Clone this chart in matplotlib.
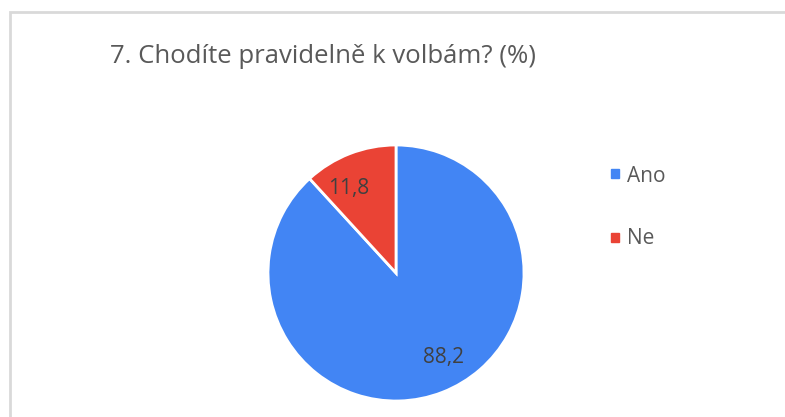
import numpy as np
import matplotlib.pyplot as plt
from matplotlib.patches import Rectangle

title = "7. Chodíte pravidelně k volbám? (%)"
labels = ["Ano", "Ne"]
values = [88.2, 11.8]
colors = ["#4285F4", "#EA4335"]

plt.rcParams['font.family'] = ['Open Sans', 'DejaVu Sans']

W, H = 785, 417
fig = plt.figure(figsize=(W / 100, H / 100), dpi=100)

# chart frame (light grey, runs off the right and bottom edges)
fig.add_artist(Rectangle((9.5 / W, -0.1), 1.2, (H - 12.5) / H + 0.1,
                         transform=fig.transFigure, fill=False,
                         edgecolor="#D9D9D9", linewidth=2))

cx, cy, r = 396, 273, 128
ax = fig.add_axes([(cx - r) / W, (H - cy - r) / H, 2 * r / W, 2 * r / H])

wedges, _, autotexts = ax.pie(
    values, colors=colors, startangle=90, counterclock=False,
    autopct=lambda p: f"{p:.1f}".replace(".", ","), pctdistance=0.76,
    wedgeprops=dict(edgecolor="white", linewidth=2),
    textprops=dict(color="#404040", fontsize=15))
# Excel puts the labels a bit further round (counter-clockwise)
rot = np.deg2rad(8)
for t in autotexts:
    x, y = t.get_position()
    t.set_position((x * np.cos(rot) - y * np.sin(rot),
                    x * np.sin(rot) + y * np.cos(rot)))
ax.set_xlim(-1, 1)
ax.set_ylim(-1, 1)
ax.set_aspect("equal")
ax.axis("off")

fig.text(110 / W, 1 - 63 / H, title, fontsize=18.5, color="#595959",
         va="baseline", ha="left")

for i, (lab, col) in enumerate(zip(labels, colors)):
    ym = 1 - (173.5 + 64 * i) / H
    fig.patches.append(Rectangle((611 / W, ym - 4.5 / H), 8 / W, 9 / H,
                                 transform=fig.transFigure, color=col))
    fig.text(627 / W, 1 - (182 + 62 * i) / H, lab, fontsize=15,
             color="#595959", va="baseline", ha="left")

fig.savefig("out.png", dpi=100)
